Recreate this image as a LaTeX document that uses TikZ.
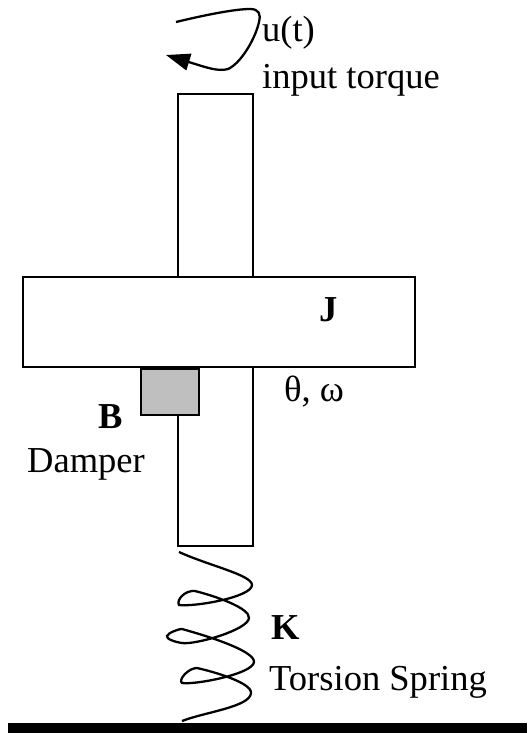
\documentclass[tikz,border=0pt]{standalone}
\usepackage{fontspec}
\setmainfont{Liberation Serif}
\usetikzlibrary{arrows.meta}
\tikzset{
  body/.style = {draw, line width = 1.2pt, fill = white},
  label/.style = {anchor = base west, inner sep = 0pt, font = \fontsize{20.8}{25}\selectfont},
  bold/.style = {label, font = \fontsize{20.8}{25}\selectfont\bfseries},
}
\begin{document}
\begin{tikzpicture}[x = 0.02cm, y = -0.02cm, line width = 1.3pt]
    \useasboundingbox (0,0) rectangle (527,733);
    % shaft and disk
    \draw[body] (178,94) rectangle (253,277);
    \draw[body] (178,367) rectangle (253,546);
    \draw[body] (23,277) rectangle (415,367);
    \draw[body, fill = black!25] (141,369) rectangle (199,415);
    % floor
    \fill[black] (8,723) rectangle (527,733);
    % input torque
    \draw[-{Triangle[length = 4.8mm, width = 3.4mm]}] (176,22) .. controls (205,15) and (235,9) .. (250,9)
        .. controls (259,9) and (261,14) .. (259,22)
        .. controls (255,40) and (240,64) .. (228,69)
        .. controls (218,72) and (205,67) .. (166,55);
    % spring
    \draw (179,552) .. controls (210,566) and (252,575) .. (252,585)
        .. controls (252,597) and (195,607) .. (179,605)
        .. controls (176,600) and (185,590) .. (195,591)
        .. controls (215,596) and (250,608) .. (249,618)
        .. controls (248,630) and (195,645) .. (182,643)
        .. controls (175,642) and (166,639) .. (167,636)
        .. controls (168,633) and (178,629) .. (182,629)
        .. controls (200,634) and (255,650) .. (254,662)
        .. controls (253,674) and (195,685) .. (182,683)
        .. controls (178,680) and (188,668) .. (197,668)
        .. controls (215,672) and (252,683) .. (251,693)
        .. controls (250,707) and (205,712) .. (182,721);
    % labels
    \node[label] (torquename) at (261,42) {u(t)};
    \node[label] (torquetext) at (261,89) {input torque};
    \node[bold] (inertia) at (318,321) {J};
    \node[label] (angle) at (283,401) {θ, ω};
    \node[bold] (dampername) at (97,428) {B};
    \node[label] (dampertext) at (26,472) {Damper};
    \node[bold] (springname) at (270,639) {K};
    \node[label] (springtext) at (268,690) {Torsion Spring};
\end{tikzpicture}
\end{document}
